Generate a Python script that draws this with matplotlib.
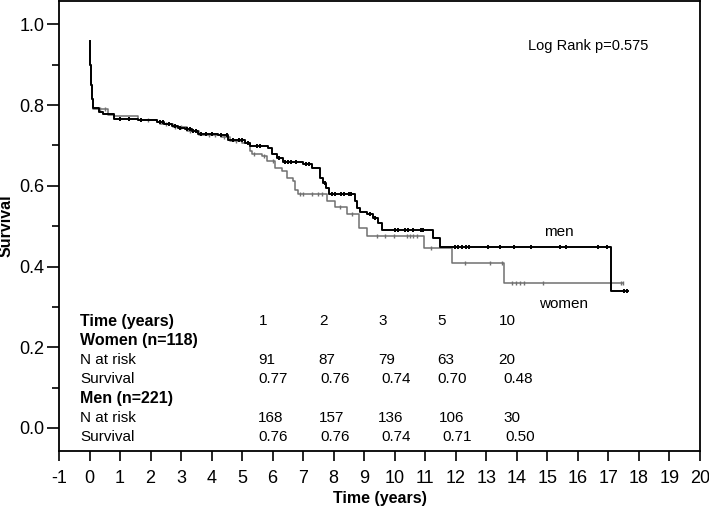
import numpy as np
import matplotlib
matplotlib.use("Agg")
import matplotlib.pyplot as plt
from matplotlib.ticker import MultipleLocator

plt.rcParams['font.family'] = ['Liberation Sans', 'DejaVu Sans']

# ---- data: Kaplan-Meier steps (time in years, survival after step) ----
women_t = [0.00, 0.02, 0.04, 0.07, 0.10, 0.12, 0.62, 0.81, 1.60, 2.20, 2.30, 2.75, 3.20,
           3.60, 4.30, 4.60, 5.00, 5.26, 5.31, 5.64, 5.80, 6.08, 6.30, 6.46, 6.68, 6.73,
           6.84, 7.77, 8.04, 8.43, 8.84, 9.08, 10.96, 11.87, 13.58, 17.48]
women_s = [0.960, 0.900, 0.850, 0.815, 0.800, 0.790, 0.776, 0.773, 0.763, 0.757, 0.752,
           0.745, 0.735, 0.727, 0.720, 0.712, 0.706, 0.686, 0.678, 0.674, 0.662, 0.645,
           0.637, 0.620, 0.612, 0.589, 0.579, 0.563, 0.548, 0.531, 0.496, 0.476, 0.447,
           0.410, 0.360, 0.360]
women_cens = [0.35, 0.50, 1.90, 2.50, 2.80, 3.00, 3.30, 3.90, 4.10, 4.40, 4.80, 5.40, 5.70,
              6.00, 6.90, 7.00, 7.28, 7.50, 7.60, 8.20, 8.60, 9.41, 9.68, 9.98, 10.39, 10.50,
              10.60, 10.72, 11.18, 12.30, 13.12, 13.52, 13.83, 13.97, 14.10, 14.24, 14.87,
              17.40, 17.48]

men_t = [0.00, 0.02, 0.04, 0.07, 0.10, 0.13, 0.31, 0.45, 0.81, 1.60, 2.20, 2.45, 2.69, 2.90,
         3.13, 3.35, 3.57, 4.22, 4.55, 5.10, 5.26, 5.86, 5.97, 6.13, 6.35, 7.00, 7.28, 7.55,
         7.66, 7.75, 7.86, 8.70, 8.77, 8.86, 9.08, 9.30, 9.46, 9.57, 11.24, 11.48, 17.07,
         17.64]
men_s = [0.960, 0.900, 0.850, 0.815, 0.800, 0.794, 0.784, 0.779, 0.765, 0.762, 0.757, 0.752,
         0.748, 0.744, 0.740, 0.735, 0.729, 0.725, 0.713, 0.707, 0.699, 0.695, 0.680, 0.670,
         0.659, 0.653, 0.644, 0.620, 0.608, 0.595, 0.581, 0.563, 0.545, 0.534, 0.530, 0.520,
         0.509, 0.491, 0.472, 0.449, 0.340, 0.340]
men_cens = [1.00, 1.30, 1.70, 2.30, 2.40, 2.60, 2.80, 2.95, 3.20, 3.30, 3.40, 3.50, 3.65,
            3.80, 4.00, 4.30, 4.50, 4.70, 4.90, 5.00, 5.20, 5.50, 5.60, 6.20, 6.40, 6.50,
            6.60, 6.75, 7.10, 7.20, 7.70, 7.93, 8.05, 8.25, 8.35, 8.50, 8.56, 9.20, 9.35,
            10.00, 10.10, 10.34, 10.45, 10.60, 10.85, 10.94, 11.97, 12.08, 12.20, 12.32,
            12.43, 13.07, 13.45, 13.91, 14.46, 15.42, 15.60, 16.67, 16.94, 17.50, 17.62]

# ---- table data ----
table_times = ["1", "2", "3", "5", "10"]
women_risk = ["91", "87", "79", "63", "20"]
women_surv = ["0.77", "0.76", "0.74", "0.70", "0.48"]
men_risk = ["168", "157", "136", "106", "30"]
men_surv = ["0.76", "0.76", "0.74", "0.71", "0.50"]
row_labels = ["Time (years)", "Women (n=118)", "N at risk", "Survival",
              "Men (n=221)", "N at risk", "Survival"]
row_bold = [True, True, False, False, True, False, False]

GREY = "#707070"
BLACK = "#000000"

fig = plt.figure(figsize=(7.09, 5.11), dpi=100)
ax = fig.add_axes([59 / 709, 1 - 451 / 511, 641 / 709, 450 / 511])


def km_level(ts, ss, x):
    idx = np.searchsorted(np.asarray(ts), np.asarray(x), side='right') - 1
    return np.asarray(ss)[np.clip(idx, 0, len(ss) - 1)]


ax.step(women_t, women_s, where='post', color=GREY, lw=1.1, zorder=2)
ax.plot(women_cens, km_level(women_t, women_s, women_cens), ls='none', marker='|',
        ms=3, mew=1.0, color=GREY, zorder=2)
ax.step(men_t, men_s, where='post', color=BLACK, lw=1.4, zorder=3)
ax.plot(men_cens, km_level(men_t, men_s, men_cens), ls='none', marker='|',
        ms=3, mew=1.4, color=BLACK, zorder=3)

ax.set_xlim(-1, 20)
ax.set_ylim(-0.057, 1.058)
ax.xaxis.set_major_locator(MultipleLocator(1))
ax.yaxis.set_major_locator(MultipleLocator(0.2))
ax.yaxis.set_minor_locator(MultipleLocator(0.1))
ax.xaxis.set_major_formatter(plt.FuncFormatter(lambda v, p: f"{int(round(v))}"))
ax.yaxis.set_major_formatter(plt.FuncFormatter(lambda v, p: f"{v:.1f}"))
ax.tick_params(axis='x', which='major', direction='out', length=7.5, width=1.2,
               labelsize=13, pad=6)
ax.tick_params(axis='y', which='major', direction='out', length=9, width=1.2,
               labelsize=13, pad=1.5)
ax.tick_params(axis='y', which='minor', direction='out', length=5, width=1.2)
for sp in ax.spines.values():
    sp.set_linewidth(1.3)

ax.set_xlabel("Time (years)", fontsize=11.5, fontweight='bold', labelpad=3)
ax.set_ylabel("Survival", fontsize=11.5, fontweight='bold', labelpad=4)

ax.text(14.37, 0.947, "Log Rank p=0.575", fontsize=10.5, va='center', ha='left')
ax.text(14.89, 0.486, "men", fontsize=11, va='center', ha='left')
ax.text(14.73, 0.307, "women", fontsize=11, va='center', ha='left')

# ---- table ----
row_y = [0.265, 0.217, 0.169, 0.121, 0.073, 0.025, -0.022]
label_x = -0.31
for lab, y, b in zip(row_labels, row_y, row_bold):
    ax.text(label_x, y, lab, fontsize=11.5 if b else 11, va='center', ha='left',
            fontweight='bold' if b else 'normal')

time_x = [5.55, 7.51, 9.45, 11.40, 13.40]
wrisk_x = [5.53, 7.51, 9.45, 11.40, 13.40]
wsurv_x = [5.53, 7.55, 9.56, 11.40, 13.55]
mrisk_x = [5.53, 7.51, 9.45, 11.46, 13.55]
msurv_x = [5.53, 7.55, 9.56, 11.55, 13.63]
rows = [(table_times, time_x, row_y[0]), (women_risk, wrisk_x, row_y[2]),
        (women_surv, wsurv_x, row_y[3]), (men_risk, mrisk_x, row_y[5]),
        (men_surv, msurv_x, row_y[6])]
for vals, xs, y in rows:
    for v, x in zip(vals, xs):
        ax.text(x, y, v, fontsize=11, va='center', ha='left')

fig.savefig("out.png", dpi=100)
